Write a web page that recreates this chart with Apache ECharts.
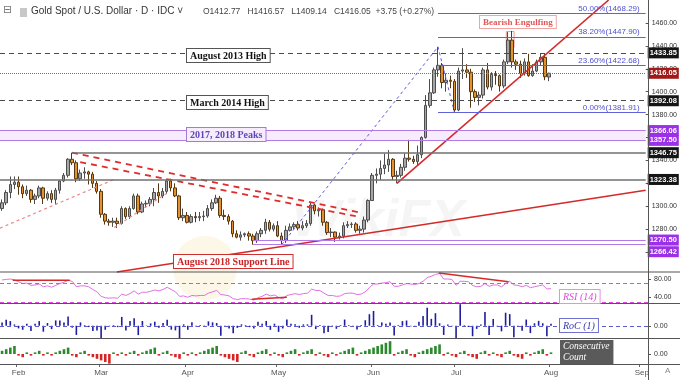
<!DOCTYPE html>
<html><head><meta charset="utf-8">
<script src="https://cdn.jsdelivr.net/npm/echarts@6/dist/echarts.min.js"></script>
<style>html,body{margin:0;padding:0;background:#fff}#c{width:680px;height:380px}</style>
</head><body><div id="c"></div>
<script>
// ---------- data ----------
const opens=[1298,1303,1312,1319,1321,1317,1311,1314,1306,1309,
1316,1307,1311,1306,1314,1322,1327,1341,1338,1324,
1329,1330,1328,1320,1313,1293,1287,1286,1287,1285,
1298,1291,1298,1309,1295,1302,1302.5,1306,1312,1309,
1313,1322,1316,1309,1290,1292,1286,1291,1290,1291,
1291.5,1298,1303,1307,1292,1291,1287,1276,1273,1275,
1276,1274,1270,1276,1279,1286,1280,1283,1274,1270,
1279,1282,1284,1281,1283,1285,1301,1296,1297,1286,
1277,1277.5,1273,1274,1283,1284,1284.5,1279,1280,1288,
1305,1327,1328,1333,1336,1341,1326,1327,1334,1342,
1341,1339,1345,1360,1388,1399,1419,1423,1408,1410,
1409,1384,1418,1419,1417,1400,1395,1397,1419,1404,
1415,1414,1405,1426,1445,1426,1424,1416,1426,1414,
1418,1426,1430,1412.77];
const closes=[1303,1312,1319,1321,1317,1311,1314,1306,1309,1316,
1307,1311,1306,1314,1322,1327,1341,1338,1324,1329,
1330,1328,1320,1313,1293,1287,1286,1287,1285,1298,
1291,1298,1309,1295,1302,1302.5,1306,1312,1309,1313,
1322,1316,1309,1290,1292,1286,1291,1290,1291,1291.5,
1298,1303,1307,1292,1291,1287,1276,1273,1275,1276,
1274,1270,1276,1279,1286,1280,1283,1274,1270,1279,
1282,1284,1281,1283,1285,1301,1296,1297,1286,1277,
1277.5,1273,1274,1283,1284,1284.5,1279,1280,1288,1305,
1327,1328,1333,1336,1341,1326,1327,1334,1342,1341,
1339,1345,1360,1388,1399,1419,1423,1408,1410,1409,
1384,1418,1419,1417,1400,1395,1397,1419,1404,1415,
1414,1405,1426,1445,1426,1424,1416,1426,1414,1418,
1426,1430,1413,1416.05];
const lows=[1296,1301,1307,1315,1310,1307,1309,1303,1302,1307,
1302,1305,1303,1302,1311,1321,1325,1336,1321,1322,
1324,1319,1316,1311,1290,1284,1283,1282,1281,1284,
1289,1289,1297,1293,1294,1299,1300,1300,1303,1307,
1311,1313,1308,1288,1287,1285,1285,1286,1287,1287,
1290,1296,1302,1290,1288,1284,1273,1272,1270,1273,
1270,1266.42,1268,1273,1276,1278,1278,1273,1267,1268,
1278,1280,1279,1279,1281,1283,1293,1291,1283,1275,
1273,1269,1271,1272,1281,1281,1277,1276,1277,1286,
1305,1320,1323,1328,1330,1323,1320,1325,1331,1339,
1337,1336,1342,1359,1386,1398,1413,1403,1400,1403,
1381.91,1383,1411,1412,1386,1391,1388,1394,1402,1401,
1406,1400,1403,1424,1421,1419,1412,1414,1413,1413,
1417,1423,1410,1409.14];
const highs=[1306,1314,1326,1326,1326,1319,1318,1315,1311,1318,
1317,1313,1314,1316,1323,1329,1342,1346.75,1340,1332,
1334,1331,1330,1322,1315,1294,1289,1290,1290,1300,
1299,1300,1311,1311,1304,1305,1308,1316,1320,1316,
1324,1324,1320,1310,1298,1295,1293,1295,1295,1296,
1301,1306,1310,1309,1297,1293,1288,1279,1278,1277,
1278,1276,1278,1281,1289,1288,1285,1287,1277,1283,
1285,1286,1287,1287,1288,1303,1302,1299,1298,1287,
1281,1278,1277,1286,1287,1286,1286,1283,1291,1306,
1329,1333,1340,1346,1349,1342,1331,1337,1346,1358,
1344,1353,1361,1397,1411,1421,1439,1425,1416,1414,
1411,1421,1438,1424,1420,1402,1400,1421,1425,1417,
1418,1415,1428,1452,1453,1428,1427,1429,1433,1424,
1428,1433,1433,1416.57];
const rsi=[78,79,80,78,74,70,71,66,67,69,
63,65,62,66,70,73,77,75,63,65,
65,63,57,52,42,39,38,39,38,47,
44,48,54,47,51,51,53,56,54,57,
62,57,52,42,43,40,44,43,44,44,
49,52,55,46,45,43,37,35,37,37,
36,34,39,42,47,43,45,40,37,44,
46,48,46,48,49,58,55,55,49,44,
44,42,43,48,49,49,46,47,52,61,
69,69,71,72,74,64,64,67,70,69,
68,70,75,83,86,90,92,80,80,79,
66,75,75,74,66,63,64,70,64,67,
67,63,70,75,67,66,63,66,61,63,
65,67,58,59];
const roc=[0.38,0.69,0.53,0.15,-0.30,-0.46,0.23,-0.61,0.23,0.53,
-0.68,0.31,-0.38,0.61,0.61,0.38,1.05,-0.22,-1.05,0.38,
0.08,-0.15,-0.60,-0.53,-1.52,-0.46,-0.08,0.08,-0.16,1.01,
-0.54,0.54,0.85,-1.07,0.54,0.04,0.27,0.46,-0.23,0.31,
0.69,-0.45,-0.53,-1.45,0.16,-0.46,0.39,-0.08,0.08,0.04,
0.50,0.39,0.31,-1.15,-0.08,-0.31,-0.85,-0.24,0.16,0.08,
-0.16,-0.31,0.47,0.24,0.55,-0.47,0.23,-0.70,-0.31,0.71,
0.23,0.16,-0.23,0.16,0.16,1.25,-0.38,0.08,-0.85,-0.70,
0.04,-0.35,0.08,0.71,0.08,0.04,-0.43,0.08,0.63,1.32,
1.69,0.08,0.38,0.23,0.37,-1.12,0.08,0.53,0.60,-0.07,
-0.15,0.45,1.12,2.06,0.79,1.43,0.28,-1.05,0.14,-0.07,
-1.77,2.46,0.07,-0.14,-1.20,-0.36,0.14,1.57,-1.06,0.78,
-0.07,-0.64,1.49,1.33,-1.31,-0.14,-0.56,0.71,-0.84,0.28,
0.56,0.28,-1.19,0.22];
const consec=[2,3,4,5,-1,-2,1,-1,1,2,
-1,1,-1,1,2,3,4,-1,-2,1,
2,-1,-2,-3,-4,-5,-6,1,-1,1,
-1,1,2,-1,1,2,3,4,-1,1,
2,-1,-2,-3,1,-1,1,-1,1,2,
3,4,5,-1,-2,-3,-4,-5,1,2,
-1,-2,1,2,3,-1,1,-1,-2,1,
2,3,-1,1,2,3,-1,1,-1,-2,
1,-1,1,2,3,4,-1,1,2,3,
4,5,6,7,8,-1,1,2,3,-1,
-2,1,2,3,4,5,6,-1,1,-1,
-2,1,2,-1,-2,-3,1,2,-1,1,
-1,-2,1,2,-1,-2,-3,1,-1,1,
2,3,-1,1];
// horizontal levels
const dashedLevels=[1433.85,1392.08];
const lastPrice=1416.05;
const peakZone=[1366.06,1357.50];
const grayLevels=[1346.75,1323.38];
const grayStarts=[17,-0.5];
const supportZone=[1270.50,1266.42];
const supportZoneStart=61;
const fibRatios=[50.00,38.20,23.60,0.00];
const fibPrices=[1468.29,1447.90,1422.68,1381.91];
const fibStart=106;
// trend / drawing lines  [barIndex, price]
const fibTrend=[[68,1266.42],[106,1439.17],[110,1381.91]];
const risingTrend=[[96,1320],[147.5,1480]];
const supportLine=[[27.9,1242.6],[156.5,1314]];
const resistA=[[17,1346.75],[87,1294.5]];
const resistB=[[19,1338.5],[86,1291.3]];
const pinkA=[[-0.5,1280.9],[27.3,1323.5]];
const pinkB=[[27.3,1281.5],[39.9,1311]];
const engulfBox=[[122.6,1452.5],[124.5,1438.5]];
const rsiLines=[[[2.6,77],[16.4,77]],[[60.5,35.5],[69,40]],[[105.8,93],[122.7,74]]];
const title='Gold Spot / U.S. Dollar · D · IDC ˅';
const ohlcText='O1412.77   H1416.57   L1409.14   C1416.05  +3.75 (+0.27%)';

// ---------- categories (trading days) ----------
const NB=157;
const dates=[];
{let d=new Date(Date.UTC(2019,0,28));while(dates.length<NB){const w=d.getUTCDay();if(w!==0&&w!==6)dates.push(d.toISOString().slice(0,10));d.setUTCDate(d.getUTCDate()+1);}}
const monthAbbr=['Jan','Feb','Mar','Apr','May','Jun','Jul','Aug','Sep','Oct','Nov','Dec'];
const isMonthStart=i=>i>0&&dates[i].slice(5,7)!==dates[i-1].slice(5,7);

const F='Liberation Sans, Arial, sans-serif';
const FS='Liberation Serif, Times New Roman, serif';
const XMIN=-0.5,XMAX=NB-0.5;

const lbl=(v,bg,off)=>({show:true,position:'end',distance:2,offset:off||[0,0],formatter:v.toFixed(2),backgroundColor:bg,color:'#fff',fontSize:7.5,fontWeight:'bold',fontFamily:F,padding:[2,2,1,2]});
const hline=(x1,x2,y,color,type,width,bg,off)=>[{coord:[x1,y],lineStyle:{color,type,width},label:bg?lbl(y,bg,off):{show:false}},{coord:[x2,y]}];

const markLines=[];
dashedLevels.forEach(v=>markLines.push(hline(XMIN,XMAX,v,'#4a4a4a',[5,4],1.2,'#151515')));
markLines.push(hline(XMIN,XMAX,lastPrice,'#c25050','dotted',1,'#a01818'));
peakZone.forEach(v=>markLines.push(hline(XMIN,XMAX,v,'#b27ae4','solid',1.2,'#9b30e8')));
grayLevels.forEach((v,i)=>markLines.push(hline(grayStarts[i],XMAX,v,'#707070','solid',1.5,'#151515')));
supportZone.forEach((v,i)=>markLines.push(hline(supportZoneStart,XMAX,v,'#b27ae4','solid',1.2,'#9b30e8',i===1?[0,7]:[0,0])));
fibPrices.forEach((p,i)=>markLines.push([{coord:[fibStart,p],lineStyle:{color:'#6262d8',type:'solid',width:1},
  label:{show:true,position:'insideEndTop',distance:[6,1],formatter:fibRatios[i].toFixed(2)+'%('+p.toFixed(2)+')',color:'#5050d0',fontSize:8,fontFamily:F}},{coord:[XMAX,p]}]));

const lineSeries=(data,xi,yi,color,type,width,z)=>({type:'line',xAxisIndex:xi,yAxisIndex:yi,data,symbol:'none',silent:true,z:z||3,
  lineStyle:{color,type,width},animation:false});

const catAxis=(gi,show)=>({type:'category',gridIndex:gi,data:dates,boundaryGap:true,
  axisLine:{show:false,onZero:false},splitLine:{show:false},
  axisTick:{show:show,interval:(i)=>isMonthStart(i),length:3,lineStyle:{color:'#666'}},
  axisLabel:{show:show,interval:(i)=>isMonthStart(i),formatter:v=>monthAbbr[+v.slice(5,7)-1],fontSize:8,color:'#555',fontFamily:F,margin:5}});
const valX=gi=>({type:'value',gridIndex:gi,min:XMIN,max:XMAX,show:false,axisLine:{show:false,onZero:false}});

const rightAxis=(gi,min,max,extra)=>Object.assign({type:'value',gridIndex:gi,position:'right',min,max,scale:true,
  axisLine:{show:false,onZero:false},splitLine:{show:false},
  axisTick:{show:true,length:3,lineStyle:{color:'#555'}},
  axisLabel:{fontSize:7,color:'#333',fontFamily:F,margin:6,formatter:v=>v.toFixed(2)}},extra||{});

const chart=echarts.init(document.getElementById('c'),null,{renderer:'canvas'});
chart.setOption({
  animation:false,
  backgroundColor:'#fff',
  grid:[
    {left:0,right:32,top:-1,height:276},
    {left:0,right:32,top:272,height:31},
    {left:0,right:32,top:303,height:35},
    {left:0,right:32,top:338,height:26}
  ],
  xAxis:[catAxis(0,false),catAxis(1,false),catAxis(2,false),catAxis(3,true),valX(0),valX(1)],
  yAxis:[
    rightAxis(0,1240,1480,{interval:20,axisLabel:{fontSize:7,color:'#333',fontFamily:F,margin:6,showMinLabel:false,showMaxLabel:false,formatter:v=>v.toFixed(2)}}),
    rightAxis(1,27.5,95.3,{axisLabel:{fontSize:7,color:'#333',fontFamily:F,margin:6,customValues:[40,80],formatter:v=>v.toFixed(2)},axisTick:{show:true,length:3,customValues:[40,80],lineStyle:{color:'#555'}}}),
    rightAxis(2,-1.4,2.6,{axisLabel:{fontSize:7,color:'#333',fontFamily:F,margin:6,customValues:[0],formatter:v=>v.toFixed(2)},axisTick:{show:true,length:3,customValues:[0],lineStyle:{color:'#555'}}}),
    rightAxis(3,-6.25,10,{axisLabel:{fontSize:7,color:'#333',fontFamily:F,margin:6,customValues:[0],formatter:v=>v.toFixed(2)},axisTick:{show:true,length:3,customValues:[0],lineStyle:{color:'#555'}}})
  ],
  series:[
    // zone fill (below candles)
    {type:'line',xAxisIndex:4,yAxisIndex:0,data:[[XMIN,peakZone[0]],[XMAX,peakZone[0]]],symbol:'none',silent:true,z:1,
     lineStyle:{width:0},
     markArea:{silent:true,data:[[{coord:[XMIN,peakZone[0]],itemStyle:{color:'#f6ecfd'}},{coord:[XMAX,peakZone[1]]}],
       [{coord:engulfBox[0],itemStyle:{color:'rgba(255,255,255,0)',borderColor:'#ec9a9a',borderWidth:1}},{coord:engulfBox[1]}]]}},
    // candles
    {type:'candlestick',xAxisIndex:0,yAxisIndex:0,z:2,barWidth:3,
     data:opens.map((o,i)=>[o,closes[i],lows[i],highs[i]]),
     itemStyle:{color:'#a6a6a6',color0:'#e4922f',borderColor:'#4d4d4d',borderColor0:'#553712',borderWidth:1}},
    // levels host (fib trend dashed)
    Object.assign(lineSeries(fibTrend,4,0,'#5a5ae0',[3,3],1,4),{markLine:{silent:true,symbol:['none','none'],data:markLines}}),
    lineSeries(risingTrend,4,0,'#d42a2a','solid',1.6,4),
    lineSeries(supportLine,4,0,'#d42a2a','solid',1.6,4),
    lineSeries(resistA,4,0,'#e02c2c',[6,5],1.8,4),
    lineSeries(resistB,4,0,'#e02c2c',[6,5],1.8,4),
    lineSeries(pinkA,4,0,'#e98888',[3,3],1.2,4),
    lineSeries(pinkB,4,0,'#e98888',[3,3],1.2,4),
    // RSI
    {type:'line',xAxisIndex:1,yAxisIndex:1,data:rsi,symbol:'none',silent:true,z:3,lineStyle:{color:'#e071e0',width:1},
     markLine:{silent:true,symbol:['none','none'],label:{show:false},lineStyle:{color:'#e04ce0',type:[4,3],width:1},data:[{yAxis:70},{yAxis:30}]}},
    ...rsiLines.map(l=>lineSeries(l,5,1,'#d42a2a','solid',1.5,4)),
    // RoC
    {type:'bar',xAxisIndex:2,yAxisIndex:2,data:roc,barWidth:1.6,silent:true,itemStyle:{color:'#1d1d9e'},
     markLine:{silent:true,symbol:['none','none'],label:{show:false},lineStyle:{color:'#5c5cd0',type:[4,3],width:1},data:[{yAxis:0}]}},
    // consecutive count
    {type:'bar',xAxisIndex:3,yAxisIndex:3,barWidth:2.6,silent:true,
     data:consec.map(v=>({value:v,itemStyle:{color:v>0?'#2b8a2b':'#d42626'}}))}
  ],
  graphic:[
    // faint watermark (behind series)
    {type:'circle',shape:{cx:205,cy:268,r:32},style:{fill:'rgba(245,205,110,0.16)'},z:-1,silent:true},
    {type:'text',left:292,top:196,z:-1,silent:true,style:{text:'WikiFX',font:'italic bold 52px '+F,fill:'rgba(120,120,120,0.07)'}},
    // panel separators and right axis line
    {type:'line',shape:{x1:0,y1:272,x2:680,y2:272},style:{stroke:'#555',lineWidth:1.2},z:50},
    {type:'line',shape:{x1:0,y1:303.5,x2:680,y2:303.5},style:{stroke:'#555',lineWidth:1},z:50},
    {type:'line',shape:{x1:0,y1:338.5,x2:680,y2:338.5},style:{stroke:'#555',lineWidth:1},z:50},
    {type:'line',shape:{x1:0,y1:364.5,x2:680,y2:364.5},style:{stroke:'#555',lineWidth:1},z:50},
    {type:'line',shape:{x1:648.5,y1:0,x2:648.5,y2:380},style:{stroke:'#555',lineWidth:1},z:50},
    // header
    {type:'text',left:3,top:5,z:60,style:{text:'⊟',font:'11px DejaVu Sans',fill:'#777'}},
    {type:'rect',shape:{x:20,y:8,width:7,height:9},style:{fill:'#c8c8c8'},z:60},
    {type:'text',left:31,top:6,z:60,style:{text:title,font:'10px '+F,fill:'#333'}},
    {type:'text',left:203,top:7,z:60,style:{text:ohlcText,font:'8.5px '+F,fill:'#444'}},
    // annotation boxes
    {type:'text',left:186,top:48,z:60,style:{text:'August 2013 High',font:'bold 10px '+FS,fill:'#111',backgroundColor:'#fff',borderColor:'#555',borderWidth:1,padding:[2,3,1,3]}},
    {type:'text',left:186,top:95,z:60,style:{text:'March 2014 High',font:'bold 10px '+FS,fill:'#111',backgroundColor:'#fff',borderColor:'#555',borderWidth:1,padding:[2,3,1,3]}},
    {type:'text',left:186,top:127,z:60,style:{text:'2017, 2018 Peaks',font:'bold 10px '+FS,fill:'#5b47b6',backgroundColor:'#f6ecfd',borderColor:'#a47ad8',borderWidth:1,padding:[2,3,1,3]}},
    {type:'text',left:173,top:254,z:60,style:{text:'August 2018 Support Line',font:'bold 10px '+FS,fill:'#cc2424',backgroundColor:'#fff',borderColor:'#cc3030',borderWidth:1,padding:[2,3,1,3]}},
    {type:'text',left:479,top:15,z:60,style:{text:'Bearish Engulfing',font:'bold 9px '+FS,fill:'#e25858',backgroundColor:'#fff',borderColor:'#f0a4a4',borderWidth:1,padding:[2,3,1,3]}},
    {type:'text',left:559,top:289,z:60,style:{text:'RSI (14)',font:'italic 10px '+FS,fill:'#d84ed8',backgroundColor:'#fff',borderColor:'#e590e5',borderWidth:1,padding:[2,3,1,3]}},
    {type:'text',left:559,top:318,z:60,style:{text:'RoC (1)',font:'italic 10px '+FS,fill:'#3434ad',backgroundColor:'#fff',borderColor:'#7070d0',borderWidth:1,padding:[2,3,1,3]}},
    {type:'text',left:560,top:340,z:60,style:{text:'Consecutive\nCount',font:'italic 9.5px '+FS,lineHeight:11,fill:'#fff',backgroundColor:'#5a5a5a',padding:[1,4,1,3]}},
    {type:'text',left:665,top:367,z:60,style:{text:'A',font:'8px '+F,fill:'#888'}}
  ]
});
</script></body></html>
